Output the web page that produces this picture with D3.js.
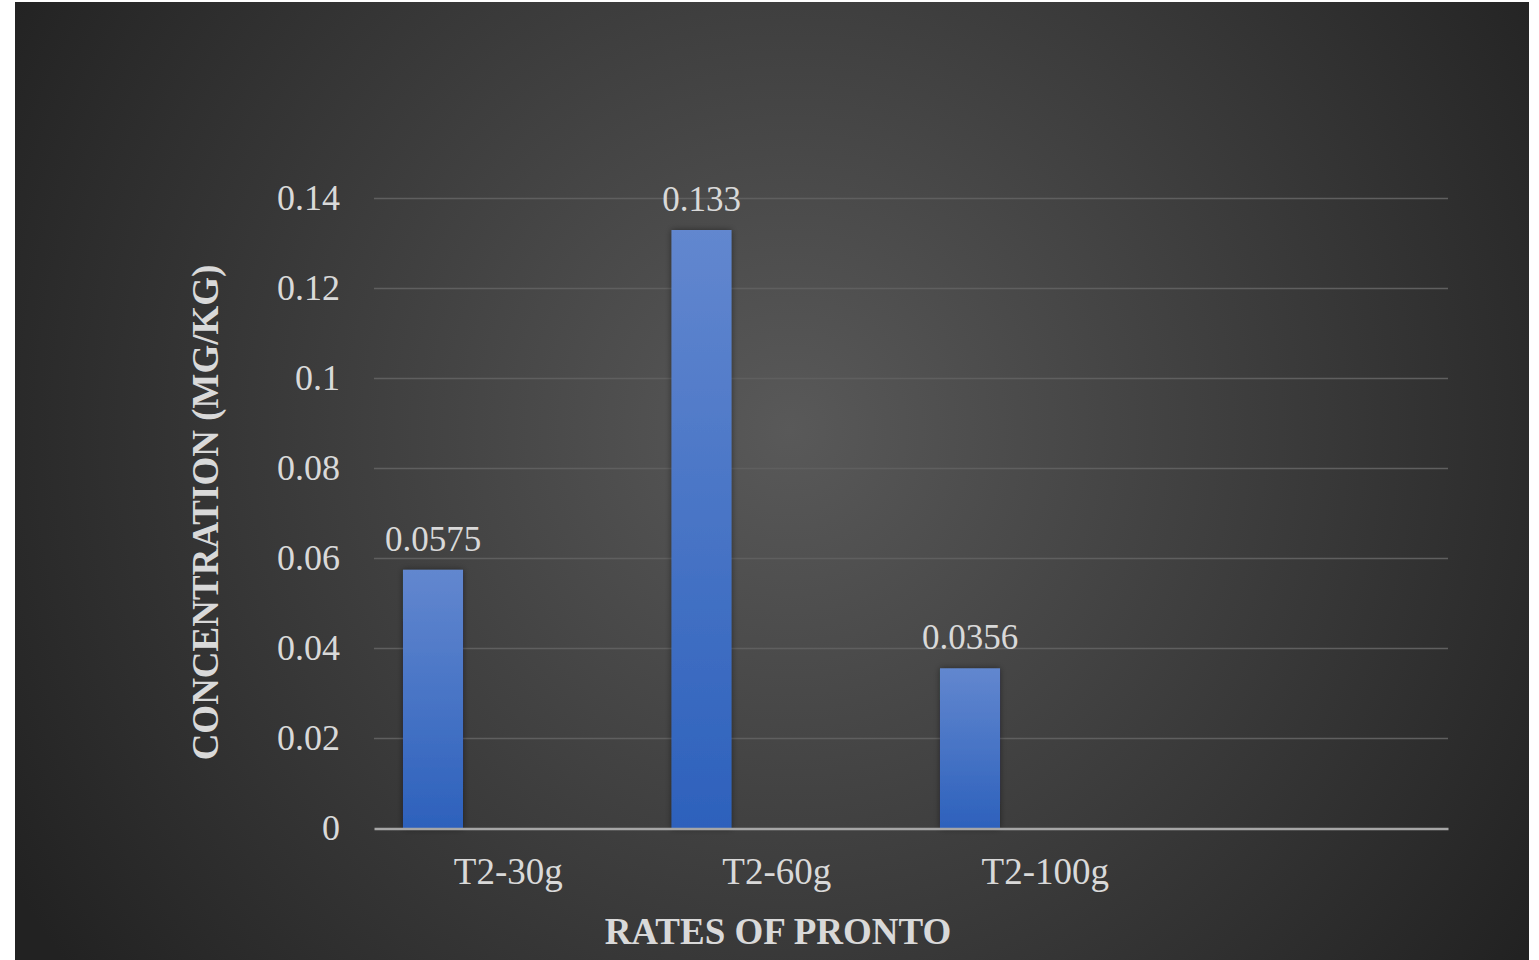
<!DOCTYPE html>
<html><head><meta charset="utf-8">
<script src="https://cdn.jsdelivr.net/npm/d3@7"></script>
<style>html,body{margin:0;padding:0;background:#fff;overflow:hidden}</style>
</head><body>
<script>
const categories = ["T2-30g", "T2-60g", "T2-100g", ""];
const values = [0.0575, 0.133, 0.0356];
const valueLabels = ["0.0575", "0.133", "0.0356"];
const yTicks = [0, 0.02, 0.04, 0.06, 0.08, 0.1, 0.12, 0.14];
const yTickLabels = ["0", "0.02", "0.04", "0.06", "0.08", "0.1", "0.12", "0.14"];
const xTitle = "RATES OF PRONTO";
const yTitle = "CONCENTRATION (MG/KG)";

(function () {
const W = 1539, H = 960;
const svg = d3.select("body").append("svg").attr("width", W).attr("height", H);
const defs = svg.append("defs");
const bg = defs.append("radialGradient").attr("id", "bg")
  .attr("gradientUnits", "userSpaceOnUse").attr("cx", 790).attr("cy", 430).attr("r", 900);
bg.append("stop").attr("offset", "0%").attr("stop-color", "#595959");
bg.append("stop").attr("offset", "100%").attr("stop-color", "#222222");
const bar = defs.append("linearGradient").attr("id", "bar").attr("x1", 0).attr("y1", 0).attr("x2", 0).attr("y2", 1);
bar.append("stop").attr("offset", "0%").attr("stop-color", "#6287cf");
bar.append("stop").attr("offset", "100%").attr("stop-color", "#2d61bc");
const sh = defs.append("filter").attr("id", "sh").attr("x", "-30%").attr("y", "-10%").attr("width", "160%").attr("height", "120%");
sh.append("feDropShadow").attr("dx", 0).attr("dy", 0).attr("stdDeviation", 3).attr("flood-color", "#000").attr("flood-opacity", 0.45);

svg.append("rect").attr("x", 15).attr("y", 2).attr("width", 1514).attr("height", 958).attr("fill", "url(#bg)");

const pl = 374, pr = 1448, pt = 198.5, pb = 828.5;
const x = d3.scaleBand().domain(categories).range([pl, pr]).padding(0);
const y = d3.scaleLinear().domain([0, 0.14]).range([pb, pt]);

const font = "'Liberation Serif', 'Times New Roman', serif";
const txt = "#d9d9d9";

svg.append("g").selectAll("line").data(yTicks.filter(d => d > 0)).join("line")
  .attr("x1", pl).attr("x2", pr)
  .attr("y1", d => y(d)).attr("y2", d => y(d))
  .attr("stroke", "#5f5f5f").attr("stroke-width", 1.5);

const yAxis = svg.append("g").attr("transform", `translate(${pl},0)`)
  .call(d3.axisLeft(y).tickValues(yTicks).tickFormat((d, i) => yTickLabels[i]).tickSize(0).tickPadding(34));
yAxis.select(".domain").remove();
yAxis.selectAll("text").attr("fill", txt).style("font-family", font).style("font-size", "36px").attr("dy", "0.3em");

const bw = x.bandwidth();
svg.append("g").selectAll("rect").data(values).join("rect")
  .attr("x", (d, i) => x(categories[i]) + bw * 0.108)
  .attr("width", bw * 0.2235)
  .attr("y", d => y(d))
  .attr("height", d => y(0) - y(d))
  .attr("fill", "url(#bar)")
  .attr("filter", "url(#sh)");

svg.append("g").selectAll("text").data(values).join("text")
  .attr("x", (d, i) => x(categories[i]) + bw * 0.108 + bw * 0.2235 / 2)
  .attr("y", d => y(d) - 19)
  .attr("text-anchor", "middle")
  .attr("fill", txt).style("font-family", font).style("font-size", "35px")
  .text((d, i) => valueLabels[i]);

const xAxis = svg.append("g").attr("transform", `translate(0,${pb})`)
  .call(d3.axisBottom(x).tickSize(0).tickPadding(29));
xAxis.select(".domain").attr("stroke", "#a6a6a6").attr("stroke-width", 2.5);
xAxis.selectAll("text").attr("fill", txt).style("font-family", font).style("font-size", "37px");

svg.append("text").attr("x", 778).attr("y", 944)
  .attr("text-anchor", "middle").attr("fill", txt)
  .style("font-family", font).style("font-size", "37px").style("font-weight", "bold")
  .text(xTitle);
svg.append("text").attr("transform", `translate(218,${(pt + pb) / 2 - 1}) rotate(-90)`)
  .attr("text-anchor", "middle").attr("fill", txt)
  .style("font-family", font).style("font-size", "37px").style("font-weight", "bold")
  .text(yTitle);
})();
</script>
</body></html>
